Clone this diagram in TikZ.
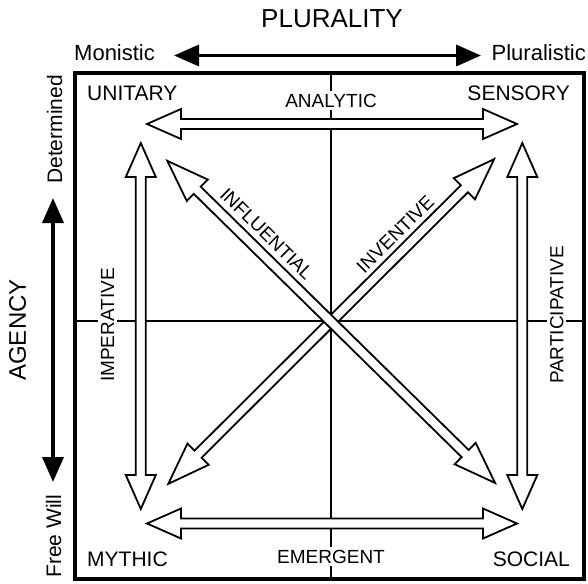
\documentclass[tikz,border=0pt]{standalone}
\usepackage{fontspec}
\setmainfont{Liberation Sans}
\usetikzlibrary{arrows.meta}
% #1 cx, #2 cy, #3 angle, #4 half length, #5 shaft half width, #6 head half width, #7 head length
\newcommand{\blockarrow}[7]{%
  \begin{scope}[shift={(#1,#2)}, rotate=#3]
    \draw[blockarr] (-#4,0) -- (-#4+#7,#6) -- (-#4+#7,#5) -- (#4-#7,#5) -- (#4-#7,#6) -- (#4,0)
      -- (#4-#7,-#6) -- (#4-#7,-#5) -- (-#4+#7,-#5) -- (-#4+#7,-#6) -- cycle;
  \end{scope}}
\begin{document}
\begin{tikzpicture}[x=1pt,y=-1pt,
  corner/.style={font=\fontsize{21}{24}\selectfont, inner sep=0pt},
  inlab/.style={font=\fontsize{19}{22}\selectfont, inner sep=0pt},
  gaplab/.style={inlab, fill=white, inner sep=2.5pt},
  outlab/.style={font=\fontsize{22}{26}\selectfont, inner sep=0pt},
  axislab/.style={font=\fontsize{26}{30}\selectfont, inner sep=0pt},
  sidelab/.style={font=\fontsize{21}{24}\selectfont, inner sep=0pt, rotate=90},
  blockarr/.style={draw=black, fill=white, line width=1.8pt, line join=miter},
  outarr/.style={line width=3.5pt, {Triangle[length=25pt,width=21pt]}-{Triangle[length=25pt,width=21pt]}},
  frame/.style={line width=3.5pt},
  centerline/.style={line width=1.3pt}]
\useasboundingbox (0,0) rectangle (588,583);

% frame and centre lines
\draw[frame] (75,73) rectangle (584,579);
\coordinate (ctop) at (331,73);
\coordinate (cbot) at (331,579);
\coordinate (cleft) at (75,321);
\coordinate (cright) at (584,321);
\draw[centerline] (ctop) -- (cbot);
\draw[centerline] (cleft) -- (cright);

% labels that interrupt the centre lines
\node[gaplab, anchor=base] (analytic) at (331,107) {ANALYTIC};
\node[gaplab, anchor=base] (emergent) at (331,563) {EMERGENT};
\node[gaplab, rotate=90] (imperative) at (107.5,325) {IMPERATIVE};
\node[gaplab, rotate=90] (participative) at (556.7,315) {PARTICIPATIVE};

% block arrows
\blockarrow{332}{124}{0}{185}{5}{15}{34}
\blockarrow{332}{523.5}{0}{185}{5}{15}{34}
\blockarrow{140.8}{326}{90}{183}{5}{15}{34}
\blockarrow{522.3}{326}{90}{183}{5}{15}{34}
\blockarrow{331.2}{321.5}{44.9}{230}{5}{15}{42}
\blockarrow{331.2}{321.9}{-44.5}{229.8}{5}{15}{42}

% diagonal labels
\node[inlab, rotate=-44.5] (influential) at (266.7,234) {INFLUENTIAL};
\node[inlab, rotate=44.9] (inventive) at (395.3,234) {INVENTIVE};

% corner labels
\node[corner, anchor=base west] (unitary) at (87,101) {UNITARY};
\node[corner, anchor=base east] (sensory) at (570,101) {SENSORY};
\node[corner, anchor=base west] (mythic) at (87,566) {MYTHIC};
\node[corner, anchor=base east] (social) at (570,566) {SOCIAL};

% plurality axis
\node[axislab, anchor=base] (plurality) at (332,28) {PLURALITY};
\node[outlab, anchor=base west] (monistic) at (74,61) {Monistic};
\node[outlab, anchor=base east] (pluralistic) at (586,61) {Pluralistic};
\coordinate (pl) at (174,55.5);
\coordinate (pr) at (481,55.5);
\draw[outarr] (pl) -- (pr);

% agency axis
\node[axislab, rotate=90, font=\fontsize{24}{28}\selectfont] (agency) at (17.5,330) {AGENCY};
\node[sidelab, anchor=base west] (determined) at (62,184) {Determined};
\node[sidelab, anchor=base west] (freewill) at (61,578) {Free Will};
\coordinate (at) at (53,198);
\coordinate (ab) at (53,482);
\draw[outarr] (at) -- (ab);
\end{tikzpicture}
\end{document}
